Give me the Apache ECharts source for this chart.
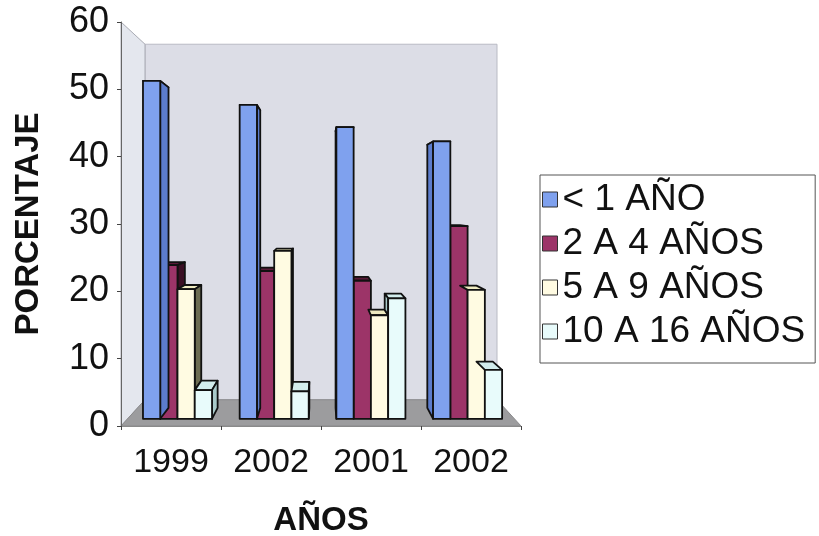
<!DOCTYPE html>
<html>
<head>
<meta charset="utf-8">
<script src="https://cdn.jsdelivr.net/npm/echarts@6/dist/echarts.min.js"></script>
<style>
  html, body { margin: 0; padding: 0; background: #ffffff; }
  #chart { width: 819px; height: 536px; }
</style>
</head>
<body>
<div id="chart"></div>
<script>
// Categories and percentage values per age band
const categories = ['1999', '2002', '2001', '2002'];
const seriesNames = ['< 1 AÑO', '2 A 4 AÑOS', '5 A 9 AÑOS', '10 A 16 AÑOS'];
const under1Year = [51.9, 48.2, 44.8, 42.6];
const age2to4 = [23.6, 22.7, 21.2, 29.6];
const age5to9 = [19.9, 25.8, 15.9, 19.8];
const age10to16 = [4.4, 4.2, 18.5, 7.5];
const yMin = 0, yMax = 60, yStep = 10;

const seriesValues = [under1Year, age2to4, age5to9, age10to16];

// Face colours: front, side, top
const faceColors = [
  { front: '#7fa1ee', side: '#5c7ccc', top: '#6f8fdc' },
  { front: '#9c3468', side: '#3a0f24', top: '#5a1a38' },
  { front: '#fffbe2', side: '#6c6c52', top: '#eeeac0' },
  { front: '#e8fbfb', side: '#a9c9c9', top: '#d2ecec' }
];

// Perspective view parameters
const DEPTH_SHRINK = 0.12;   // scale loss from front plane to back wall
const EYE_LEVEL = 32.5;      // value level of the horizon
const BAR_Z0 = 0.275, BAR_Z1 = 0.69;   // bar depth span (0 front, 1 back wall)
const BAR_START = 0.159, BAR_W = 0.1785; // fractions of a category width

function makeProjector(vx, vy) {
  return function (x, y, z) {
    const s = 1 - DEPTH_SHRINK * z;
    return [vx + (x - vx) * s, vy + (y - vy) * s];
  };
}

function renderBar(params, api) {
  const k = params.seriesIndex;
  const cat = api.value(0);
  const v = api.value(1);
  const top = api.coord([cat, v]);
  const base = api.coord([cat, 0]);
  const catW = api.size([1, 0])[0];
  const c0 = api.coord([0, 0])[0];
  const c3 = api.coord([categories.length - 1, 0])[0];
  const vx = (c0 + c3) / 2;
  const vy = api.coord([0, EYE_LEVEL])[1];
  const P = makeProjector(vx, vy);

  const xL = top[0] - catW / 2 + catW * (BAR_START + k * BAR_W);
  const xR = xL + catW * BAR_W;
  const yT = top[1], yB = base[1];
  const col = faceColors[k];
  const stroke = { stroke: '#111', lineWidth: 1.8, lineJoin: 'round' };

  const children = [];
  // top face
  children.push({
    type: 'polygon',
    shape: { points: [P(xL, yT, BAR_Z0), P(xR, yT, BAR_Z0), P(xR, yT, BAR_Z1), P(xL, yT, BAR_Z1)] },
    style: Object.assign({ fill: col.top }, stroke)
  });
  // side face facing the horizon centre
  const rightSide = (xL + xR) / 2 < vx;
  const xe = rightSide ? xR : xL;
  const nb = rightSide ? k + 1 : k - 1;
  let lowV = 0, drawSide = true;
  if (k !== 0 && nb >= 0 && nb < seriesValues.length) {
    const nv = seriesValues[nb][cat];
    if (nv >= v) drawSide = false; else lowV = nv;
  }
  if (drawSide) {
    const yLow = api.coord([cat, lowV])[1];
    children.push({
      type: 'polygon',
      shape: { points: [P(xe, yT, BAR_Z0), P(xe, yT, BAR_Z1), P(xe, yLow, BAR_Z1), P(xe, yLow, BAR_Z0)] },
      style: Object.assign({ fill: col.side }, stroke)
    });
  }
  // front face
  children.push({
    type: 'polygon',
    shape: { points: [P(xL, yT, BAR_Z0), P(xR, yT, BAR_Z0), P(xR, yB, BAR_Z0), P(xL, yB, BAR_Z0)] },
    style: Object.assign({ fill: col.front }, stroke)
  });
  return { type: 'group', children: children };
}

const fontFamily = '"Liberation Sans", Arial, Helvetica, sans-serif';

const chart = echarts.init(document.getElementById('chart'), null, { renderer: 'canvas' });

const option = {
  backgroundColor: '#ffffff',
  animation: false,
  textStyle: { fontFamily: fontFamily },
  grid: { left: 121, right: 298, top: 22, bottom: 110, containLabel: false, outerBoundsMode: 'none' },
  legend: {
    orient: 'vertical',
    left: 540,
    top: 175,
    itemWidth: 15,
    itemHeight: 15,
    itemGap: 7,
    padding: [6, 10, 13, 2],
    borderColor: '#555',
    borderWidth: 1,
    icon: 'rect',
    itemStyle: { borderColor: '#333', borderWidth: 1 },
    textStyle: { fontSize: 37, lineHeight: 37, color: '#111', fontFamily: fontFamily },
    data: seriesNames
  },
  xAxis: {
    type: 'category',
    data: categories,
    boundaryGap: true,
    name: 'AÑOS',
    nameLocation: 'middle',
    nameGap: 78,
    nameMoveOverlap: false,
    nameTextStyle: { fontSize: 33, fontWeight: 'bold', color: '#111', fontFamily: fontFamily },
    axisLine: { show: true, lineStyle: { color: '#8a8a8a', width: 1 } },
    axisTick: { show: true, interval: 0, length: 4, lineStyle: { color: '#444' } },
    axisLabel: { fontSize: 34, color: '#111', margin: 20, fontFamily: fontFamily },
    splitLine: { show: false }
  },
  yAxis: {
    type: 'value',
    min: yMin,
    max: yMax,
    interval: yStep,
    name: 'PORCENTAJE',
    nameLocation: 'middle',
    nameRotate: 90,
    nameGap: 76,
    nameMoveOverlap: false,
    nameTextStyle: { fontSize: 33, fontWeight: 'bold', color: '#111', fontFamily: fontFamily },
    axisLine: { show: true, lineStyle: { color: '#666', width: 1 } },
    axisTick: { show: true, length: 4, lineStyle: { color: '#444' } },
    axisLabel: { fontSize: 36, color: '#111', margin: 12, fontFamily: fontFamily },
    splitLine: { show: false }
  },
  series: seriesNames.map(function (name, k) {
    return {
      name: name,
      type: 'custom',
      z: k === 0 ? 4 : 3,
      renderItem: renderBar,
      itemStyle: { color: faceColors[k].front, borderColor: '#333', borderWidth: 1 },
      encode: { x: 0, y: 1 },
      data: seriesValues[k].map(function (val, i) { return [i, val]; })
    };
  })
};

chart.setOption(option);

// Back wall, side wall and floor of the plot box
(function drawWalls() {
  const px = function (c, v) { return chart.convertToPixel({ gridIndex: 0 }, [c, v]); };
  const a = px(0, 0), b = px(categories.length - 1, 0);
  const catW = (b[0] - a[0]) / (categories.length - 1);
  const xl = a[0] - catW / 2, xr = b[0] + catW / 2;
  const y0 = a[1], yTop = px(0, yMax)[1];
  const vx = (a[0] + b[0]) / 2, vy = px(0, EYE_LEVEL)[1];
  const P = makeProjector(vx, vy);
  const poly = function (pts, fill, stroke) {
    return { type: 'polygon', z: -1, silent: true, shape: { points: pts }, style: { fill: fill, stroke: stroke, lineWidth: 1 } };
  };
  chart.setOption({
    graphic: [
      poly([P(xl, y0, 1), P(xr, y0, 1), P(xr, yTop, 1), P(xl, yTop, 1)], '#dcdde6', '#b9bac4'),
      poly([P(xl, y0, 0), P(xl, y0, 1), P(xl, yTop, 1), P(xl, yTop, 0)], '#e4e7ee', '#a9abb4'),
      poly([P(xl, y0, 0), P(xr, y0, 0), P(xr, y0, 1), P(xl, y0, 1)], '#9c9c9e', '#8a8a8c')
    ]
  });
})();
</script>
</body>
</html>
